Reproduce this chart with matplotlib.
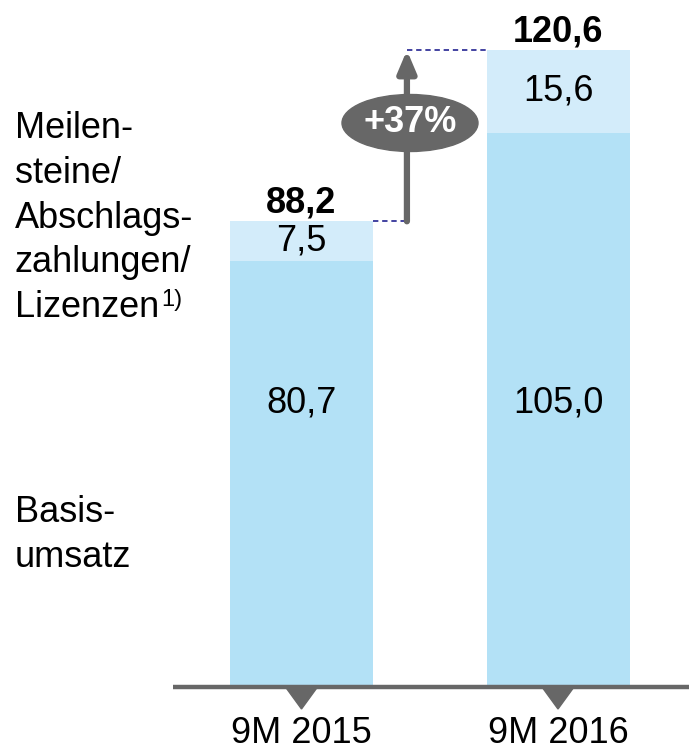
import matplotlib
matplotlib.use("Agg")
import matplotlib.pyplot as plt
from matplotlib.patches import Ellipse, Polygon

plt.rcParams['font.family'] = ['Liberation Sans', 'DejaVu Sans']

categories = ["9M 2015", "9M 2016"]
basis = [80.7, 105.0]
milestones = [7.5, 15.6]
totals = [88.2, 120.6]
basis_labels = ["80,7", "105,0"]
milestone_labels = ["7,5", "15,6"]
total_labels = ["88,2", "120,6"]
growth_label = "+37%"
top_label_lines = ["Meilen-", "steine/", "Abschlags-", "zahlungen/", "Lizenzen"]
top_label_note = "1)"
base_label_lines = ["Basis-", "umsatz"]

c_base = "#b3e1f6"
c_top = "#d3ecfa"
c_grey = "#676767"
c_dash = "#101088"

fig = plt.figure(figsize=(6.89, 7.5), dpi=100)
ax = fig.add_axes([0, 0, 1, 1])
pxx = 256.5
pxy = 5.28
ax.set_xlim(-301.5 / pxx, (689 - 301.5) / pxx)
ax.set_ylim(-63 / pxy, (750 - 63) / pxy)
ax.axis('off')


def py(p):
    """pixel row from top -> data y"""
    return (687 - p) / pxy


x = list(range(len(categories)))
w = 143 / pxx
ax.bar(x, basis, width=w, color=c_base, zorder=2)
ax.bar(x, milestones, width=w, bottom=basis, color=c_top, zorder=2)

fs = 26
for i in x:
    ax.text(i, py(403), basis_labels[i], ha='center', va='center', fontsize=fs, zorder=3)
    ax.text(i, basis[i] + milestones[i] / 2, milestone_labels[i], ha='center',
            va='center', fontsize=fs, zorder=3)
    ax.text(i, totals[i] + 8.5 / pxy, total_labels[i], ha='center', va='baseline',
            fontsize=fs, fontweight='bold', zorder=3)
    ax.text(i, py(743), categories[i], ha='center', va='baseline', fontsize=fs)
    tri = Polygon([(i - 16 / pxx, 0), (i + 16 / pxx, 0), (i, -22 / pxy)],
                  closed=True, color=c_grey, zorder=4)
    ax.add_patch(tri)

# baseline
ax.plot([-128.5 / pxx, 2], [0, 0], color=c_grey, lw=3.2, zorder=4, solid_capstyle='butt')

# growth arrow
ax_x = 0.411
ax.plot([w / 2, ax_x], [totals[0], totals[0]], color=c_dash, lw=1.1, ls=(0, (3.5, 2.5)), zorder=3)
ax.plot([ax_x, 1 - w / 2], [totals[1], totals[1]], color=c_dash, lw=1.1, ls=(0, (3.5, 2.5)), zorder=3)
ax.annotate('', xy=(ax_x, totals[1]), xytext=(ax_x, totals[0]),
            arrowprops=dict(arrowstyle='-|>,head_length=1.3,head_width=0.55', color=c_grey,
                            lw=4.5, mutation_scale=10, shrinkA=0, shrinkB=0), zorder=4)
ell = Ellipse((0.423, py(123)), 136 / pxx, 57 / pxy, color=c_grey, zorder=5)
ax.add_patch(ell)
ax.text(0.423, py(123), growth_label, ha='center', va='center', fontsize=fs,
        fontweight='bold', color='white', zorder=6)

# left legend labels
lx = -287 / pxx
last = None
for k, line in enumerate(top_label_lines):
    last = ax.text(lx, py(138 + 44.75 * k), line, ha='left', va='baseline', fontsize=fs)
ax.annotate(top_label_note, xy=(1.0, 1.0), xycoords=last, xytext=(1.5, 1),
            textcoords='offset points', ha='left', va='top', fontsize=17)
for k, line in enumerate(base_label_lines):
    ax.text(lx, py(522 + 44.75 * k), line, ha='left', va='baseline', fontsize=fs)

fig.savefig("out.png", dpi=100)
